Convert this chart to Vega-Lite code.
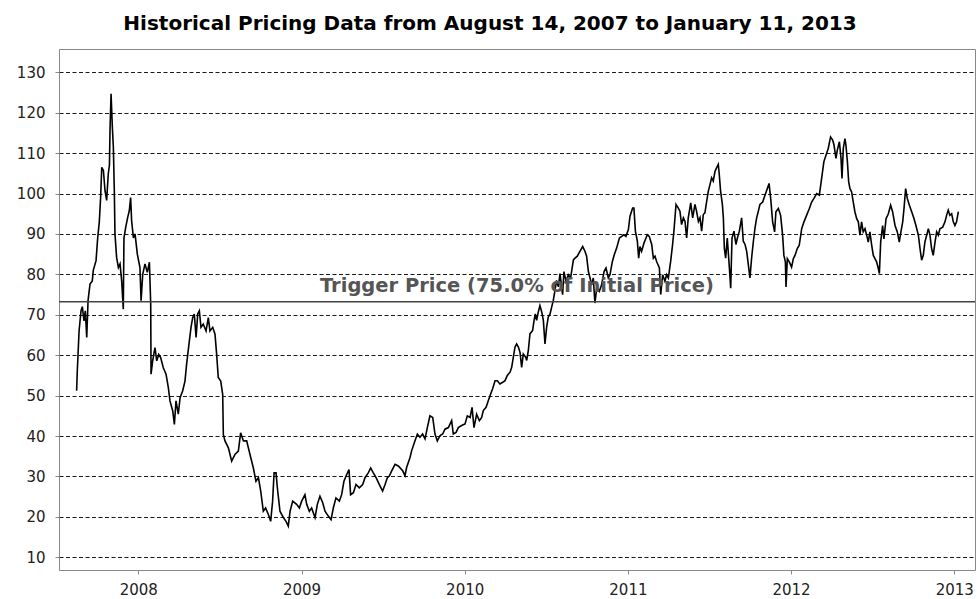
{
  "$schema": "https://vega.github.io/schema/vega-lite/v6.json",
  "width": 916,
  "height": 521,
  "autosize": "none",
  "padding": {"left": 59, "top": 49, "right": 2, "bottom": 29},
  "background": "white",
  "config": {
    "view": {"stroke": "#888888", "strokeWidth": 1},
    "font": "DejaVu Sans"
  },
  "title": {
    "text": "Historical Pricing Data from August 14, 2007 to January 11, 2013",
    "font": "DejaVu Sans",
    "fontSize": 20,
    "fontWeight": "bold",
    "color": "#000000",
    "anchor": "middle",
    "baseline": "alphabetic",
    "offset": -1,
    "dx": -27
  },
  "layer": [
    {
      "data": {"values": [
        {"t": 2007.622, "price": 51.2}, {"t": 2007.626, "price": 56}, {"t": 2007.637, "price": 66}, {"t": 2007.649, "price": 71},
        {"t": 2007.657, "price": 72}, {"t": 2007.667, "price": 68.5}, {"t": 2007.675, "price": 71}, {"t": 2007.684, "price": 64.4},
        {"t": 2007.692, "price": 73.5}, {"t": 2007.704, "price": 77.6}, {"t": 2007.718, "price": 78.4}, {"t": 2007.724, "price": 81},
        {"t": 2007.741, "price": 83.4}, {"t": 2007.751, "price": 89}, {"t": 2007.761, "price": 93}, {"t": 2007.769, "price": 99},
        {"t": 2007.776, "price": 106.5}, {"t": 2007.786, "price": 105.7}, {"t": 2007.796, "price": 100.7}, {"t": 2007.806, "price": 98.3},
        {"t": 2007.816, "price": 104.9}, {"t": 2007.823, "price": 107}, {"t": 2007.827, "price": 116.4}, {"t": 2007.833, "price": 124.7},
        {"t": 2007.841, "price": 116.4}, {"t": 2007.847, "price": 111.5}, {"t": 2007.853, "price": 100.7}, {"t": 2007.857, "price": 90},
        {"t": 2007.867, "price": 84.2}, {"t": 2007.878, "price": 81.7}, {"t": 2007.888, "price": 82.6}, {"t": 2007.898, "price": 78.4},
        {"t": 2007.908, "price": 71.4}, {"t": 2007.912, "price": 89}, {"t": 2007.923, "price": 91.7}, {"t": 2007.935, "price": 94.1},
        {"t": 2007.945, "price": 95.8}, {"t": 2007.953, "price": 99}, {"t": 2007.959, "price": 93.3}, {"t": 2007.970, "price": 89},
        {"t": 2007.980, "price": 90}, {"t": 2007.994, "price": 85}, {"t": 2008.010, "price": 81.7}, {"t": 2008.017, "price": 73.5},
        {"t": 2008.027, "price": 80}, {"t": 2008.041, "price": 82.6}, {"t": 2008.055, "price": 80.5}, {"t": 2008.068, "price": 83},
        {"t": 2008.076, "price": 72.6}, {"t": 2008.078, "price": 55.3}, {"t": 2008.088, "price": 58.6}, {"t": 2008.102, "price": 61.9},
        {"t": 2008.113, "price": 58.6}, {"t": 2008.125, "price": 60.2}, {"t": 2008.137, "price": 59.4}, {"t": 2008.153, "price": 56.9},
        {"t": 2008.170, "price": 55.3}, {"t": 2008.184, "price": 52}, {"t": 2008.194, "price": 48.7}, {"t": 2008.211, "price": 46.2},
        {"t": 2008.221, "price": 42.9}, {"t": 2008.231, "price": 48.7}, {"t": 2008.245, "price": 45.4}, {"t": 2008.256, "price": 49.5},
        {"t": 2008.272, "price": 51.2}, {"t": 2008.286, "price": 53.6}, {"t": 2008.296, "price": 57.8}, {"t": 2008.313, "price": 63.6},
        {"t": 2008.323, "price": 66.9}, {"t": 2008.333, "price": 69.3}, {"t": 2008.343, "price": 70.2}, {"t": 2008.354, "price": 64.4},
        {"t": 2008.364, "price": 70.2}, {"t": 2008.374, "price": 71}, {"t": 2008.384, "price": 66.9}, {"t": 2008.398, "price": 67.7},
        {"t": 2008.415, "price": 66}, {"t": 2008.429, "price": 69.3}, {"t": 2008.439, "price": 66}, {"t": 2008.456, "price": 66.9},
        {"t": 2008.470, "price": 65.2}, {"t": 2008.480, "price": 60.2}, {"t": 2008.490, "price": 54.5}, {"t": 2008.505, "price": 53.6},
        {"t": 2008.517, "price": 50.3}, {"t": 2008.521, "price": 40.4}, {"t": 2008.531, "price": 38.8}, {"t": 2008.552, "price": 37.1},
        {"t": 2008.572, "price": 33.8}, {"t": 2008.593, "price": 35.5}, {"t": 2008.613, "price": 36.3}, {"t": 2008.627, "price": 40.8},
        {"t": 2008.644, "price": 38.8}, {"t": 2008.664, "price": 38.8}, {"t": 2008.684, "price": 35.5}, {"t": 2008.705, "price": 32.1},
        {"t": 2008.721, "price": 28.8}, {"t": 2008.736, "price": 29.7}, {"t": 2008.750, "price": 26.4}, {"t": 2008.766, "price": 21.4},
        {"t": 2008.780, "price": 22.2}, {"t": 2008.797, "price": 20.6}, {"t": 2008.811, "price": 18.9}, {"t": 2008.823, "price": 23.9},
        {"t": 2008.832, "price": 30.9}, {"t": 2008.844, "price": 30.9}, {"t": 2008.852, "price": 27.2}, {"t": 2008.868, "price": 21.4},
        {"t": 2008.889, "price": 19.8}, {"t": 2008.905, "price": 18.9}, {"t": 2008.919, "price": 17.7}, {"t": 2008.930, "price": 21.4},
        {"t": 2008.946, "price": 23.9}, {"t": 2008.970, "price": 23.1}, {"t": 2008.987, "price": 22.2}, {"t": 2009.001, "price": 23.9},
        {"t": 2009.021, "price": 25.5}, {"t": 2009.032, "price": 23.1}, {"t": 2009.048, "price": 21.4}, {"t": 2009.062, "price": 22.2},
        {"t": 2009.083, "price": 19.8}, {"t": 2009.097, "price": 23.1}, {"t": 2009.113, "price": 25.1}, {"t": 2009.130, "price": 23.5},
        {"t": 2009.144, "price": 21.4}, {"t": 2009.164, "price": 20.2}, {"t": 2009.181, "price": 19.3}, {"t": 2009.195, "price": 22.2},
        {"t": 2009.211, "price": 24.7}, {"t": 2009.232, "price": 23.9}, {"t": 2009.246, "price": 25.5}, {"t": 2009.260, "price": 28.8},
        {"t": 2009.277, "price": 30.5}, {"t": 2009.291, "price": 31.7}, {"t": 2009.301, "price": 25.5}, {"t": 2009.318, "price": 26},
        {"t": 2009.334, "price": 28}, {"t": 2009.354, "price": 27.2}, {"t": 2009.375, "price": 28}, {"t": 2009.389, "price": 29.7},
        {"t": 2009.409, "price": 30.9}, {"t": 2009.424, "price": 32.1}, {"t": 2009.440, "price": 30.9}, {"t": 2009.457, "price": 29.7},
        {"t": 2009.477, "price": 28}, {"t": 2009.497, "price": 26.4}, {"t": 2009.512, "price": 28}, {"t": 2009.526, "price": 29.7},
        {"t": 2009.538, "price": 30.1}, {"t": 2009.552, "price": 31.3}, {"t": 2009.573, "price": 33}, {"t": 2009.593, "price": 32.6},
        {"t": 2009.620, "price": 31.4}, {"t": 2009.634, "price": 30.2}, {"t": 2009.644, "price": 32.2}, {"t": 2009.665, "price": 34.7},
        {"t": 2009.675, "price": 36.4}, {"t": 2009.695, "price": 38.8}, {"t": 2009.710, "price": 40.5}, {"t": 2009.726, "price": 39.7},
        {"t": 2009.742, "price": 40.5}, {"t": 2009.757, "price": 39.3}, {"t": 2009.771, "price": 42.1}, {"t": 2009.787, "price": 45},
        {"t": 2009.804, "price": 44.6}, {"t": 2009.818, "price": 40.5}, {"t": 2009.832, "price": 38.8}, {"t": 2009.849, "price": 40.1},
        {"t": 2009.865, "price": 40.5}, {"t": 2009.879, "price": 41.7}, {"t": 2009.900, "price": 42.1}, {"t": 2009.920, "price": 43.8},
        {"t": 2009.930, "price": 40.5}, {"t": 2009.947, "price": 40.9}, {"t": 2009.961, "price": 42.1}, {"t": 2009.981, "price": 42.6},
        {"t": 2010.002, "price": 43}, {"t": 2010.016, "price": 45}, {"t": 2010.033, "price": 44.6}, {"t": 2010.045, "price": 47.1},
        {"t": 2010.057, "price": 42.1}, {"t": 2010.073, "price": 45.4}, {"t": 2010.090, "price": 43.8}, {"t": 2010.104, "price": 44.6},
        {"t": 2010.114, "price": 46.3}, {"t": 2010.131, "price": 47.1}, {"t": 2010.145, "price": 48.8}, {"t": 2010.159, "price": 50.4},
        {"t": 2010.171, "price": 51.7}, {"t": 2010.186, "price": 53.7}, {"t": 2010.200, "price": 53.7}, {"t": 2010.216, "price": 52.9},
        {"t": 2010.233, "price": 53.3}, {"t": 2010.247, "price": 53.7}, {"t": 2010.261, "price": 55}, {"t": 2010.278, "price": 55.8},
        {"t": 2010.288, "price": 57}, {"t": 2010.298, "price": 59.5}, {"t": 2010.308, "price": 62}, {"t": 2010.318, "price": 62.8},
        {"t": 2010.329, "price": 62}, {"t": 2010.339, "price": 60.7}, {"t": 2010.349, "price": 57}, {"t": 2010.359, "price": 60.3},
        {"t": 2010.374, "price": 59.5}, {"t": 2010.380, "price": 58.7}, {"t": 2010.390, "price": 61.2}, {"t": 2010.400, "price": 65.3},
        {"t": 2010.416, "price": 66.1}, {"t": 2010.425, "price": 68.6}, {"t": 2010.433, "price": 70.2}, {"t": 2010.441, "price": 68.6},
        {"t": 2010.451, "price": 70.7}, {"t": 2010.461, "price": 72.3}, {"t": 2010.472, "price": 70.7}, {"t": 2010.482, "price": 68.6},
        {"t": 2010.492, "price": 62.8}, {"t": 2010.502, "price": 66.9}, {"t": 2010.512, "price": 69.4}, {"t": 2010.523, "price": 70.2},
        {"t": 2010.533, "price": 71.9}, {"t": 2010.543, "price": 73.6}, {"t": 2010.553, "price": 76}, {"t": 2010.563, "price": 78.5},
        {"t": 2010.574, "price": 76.9}, {"t": 2010.584, "price": 80.2}, {"t": 2010.600, "price": 75}, {"t": 2010.608, "price": 80.7},
        {"t": 2010.621, "price": 78.3}, {"t": 2010.635, "price": 79.9}, {"t": 2010.649, "price": 79.1}, {"t": 2010.666, "price": 83.6},
        {"t": 2010.676, "price": 84}, {"t": 2010.690, "price": 84.5}, {"t": 2010.706, "price": 85.7}, {"t": 2010.723, "price": 86.9},
        {"t": 2010.737, "price": 85.7}, {"t": 2010.747, "price": 84.5}, {"t": 2010.758, "price": 80.7}, {"t": 2010.768, "price": 79.1},
        {"t": 2010.778, "price": 77.4}, {"t": 2010.788, "price": 79.1}, {"t": 2010.798, "price": 72.9}, {"t": 2010.809, "price": 76.6},
        {"t": 2010.825, "price": 75.8}, {"t": 2010.839, "price": 77.4}, {"t": 2010.854, "price": 80.7}, {"t": 2010.866, "price": 81.6},
        {"t": 2010.880, "price": 79.1}, {"t": 2010.890, "price": 79.9}, {"t": 2010.905, "price": 83.2}, {"t": 2010.917, "price": 84.9},
        {"t": 2010.931, "price": 86.5}, {"t": 2010.948, "price": 89}, {"t": 2010.962, "price": 89.4}, {"t": 2010.976, "price": 89.8},
        {"t": 2010.988, "price": 89.4}, {"t": 2011.003, "price": 91.1}, {"t": 2011.013, "price": 94.4}, {"t": 2011.029, "price": 96.4},
        {"t": 2011.037, "price": 96.4}, {"t": 2011.046, "price": 90.7}, {"t": 2011.058, "price": 88.2}, {"t": 2011.066, "price": 84},
        {"t": 2011.074, "price": 86.9}, {"t": 2011.084, "price": 85.7}, {"t": 2011.099, "price": 87.8}, {"t": 2011.111, "price": 89},
        {"t": 2011.119, "price": 89.8}, {"t": 2011.131, "price": 89.4}, {"t": 2011.146, "price": 87.4}, {"t": 2011.156, "price": 84},
        {"t": 2011.166, "price": 84.5}, {"t": 2011.176, "price": 83.2}, {"t": 2011.193, "price": 81.6}, {"t": 2011.201, "price": 75},
        {"t": 2011.213, "price": 79.9}, {"t": 2011.227, "price": 78.3}, {"t": 2011.237, "price": 79.9}, {"t": 2011.248, "price": 79.1},
        {"t": 2011.262, "price": 83.2}, {"t": 2011.274, "price": 87.4}, {"t": 2011.282, "price": 90.7}, {"t": 2011.295, "price": 97.3},
        {"t": 2011.309, "price": 96.4}, {"t": 2011.319, "price": 95.6}, {"t": 2011.329, "price": 92.3}, {"t": 2011.340, "price": 94},
        {"t": 2011.350, "price": 93.1}, {"t": 2011.360, "price": 89}, {"t": 2011.370, "price": 94}, {"t": 2011.385, "price": 97.7},
        {"t": 2011.397, "price": 94}, {"t": 2011.411, "price": 97.3}, {"t": 2011.421, "price": 95.6}, {"t": 2011.432, "price": 93.1},
        {"t": 2011.442, "price": 94}, {"t": 2011.452, "price": 90.7}, {"t": 2011.462, "price": 94.8}, {"t": 2011.472, "price": 95.2},
        {"t": 2011.483, "price": 98.1}, {"t": 2011.493, "price": 100.6}, {"t": 2011.503, "price": 102.2}, {"t": 2011.513, "price": 103.9},
        {"t": 2011.523, "price": 103.1}, {"t": 2011.534, "price": 105.5}, {"t": 2011.544, "price": 106.4}, {"t": 2011.554, "price": 107.2},
        {"t": 2011.560, "price": 104.7}, {"t": 2011.568, "price": 100.6}, {"t": 2011.579, "price": 97.3}, {"t": 2011.585, "price": 94},
        {"t": 2011.591, "price": 86.5}, {"t": 2011.599, "price": 84}, {"t": 2011.609, "price": 89}, {"t": 2011.622, "price": 81.6},
        {"t": 2011.630, "price": 76.6}, {"t": 2011.638, "price": 89}, {"t": 2011.650, "price": 90.7}, {"t": 2011.662, "price": 87.4},
        {"t": 2011.671, "price": 89}, {"t": 2011.683, "price": 90.7}, {"t": 2011.697, "price": 94}, {"t": 2011.707, "price": 88.2},
        {"t": 2011.718, "price": 87.4}, {"t": 2011.728, "price": 85.7}, {"t": 2011.738, "price": 82.4}, {"t": 2011.748, "price": 79.1},
        {"t": 2011.758, "price": 84}, {"t": 2011.769, "price": 88.2}, {"t": 2011.779, "price": 91.5}, {"t": 2011.789, "price": 94},
        {"t": 2011.799, "price": 95.6}, {"t": 2011.809, "price": 97.3}, {"t": 2011.826, "price": 97.9}, {"t": 2011.840, "price": 99.6},
        {"t": 2011.854, "price": 101.2}, {"t": 2011.865, "price": 102.5}, {"t": 2011.875, "price": 98.8}, {"t": 2011.887, "price": 93},
        {"t": 2011.899, "price": 90.5}, {"t": 2011.907, "price": 95.5}, {"t": 2011.922, "price": 96.3}, {"t": 2011.936, "price": 94.6},
        {"t": 2011.948, "price": 89.7}, {"t": 2011.956, "price": 84.7}, {"t": 2011.965, "price": 83.1}, {"t": 2011.969, "price": 76.9},
        {"t": 2011.977, "price": 83.9}, {"t": 2011.989, "price": 83.1}, {"t": 2012.003, "price": 81.8}, {"t": 2012.014, "price": 83.9},
        {"t": 2012.024, "price": 84.7}, {"t": 2012.038, "price": 86.4}, {"t": 2012.050, "price": 87.2}, {"t": 2012.065, "price": 91.3},
        {"t": 2012.079, "price": 93}, {"t": 2012.095, "price": 94.6}, {"t": 2012.112, "price": 96.3}, {"t": 2012.126, "price": 97.9},
        {"t": 2012.140, "price": 98.8}, {"t": 2012.157, "price": 100}, {"t": 2012.173, "price": 99.6}, {"t": 2012.187, "price": 103.7},
        {"t": 2012.201, "price": 107.9}, {"t": 2012.214, "price": 109.5}, {"t": 2012.228, "price": 111.2}, {"t": 2012.242, "price": 114},
        {"t": 2012.255, "price": 113.2}, {"t": 2012.263, "price": 112}, {"t": 2012.275, "price": 108.7}, {"t": 2012.283, "price": 110.7},
        {"t": 2012.296, "price": 112.8}, {"t": 2012.306, "price": 108.7}, {"t": 2012.312, "price": 103.7}, {"t": 2012.320, "price": 111.2},
        {"t": 2012.330, "price": 113.6}, {"t": 2012.336, "price": 112}, {"t": 2012.345, "price": 107.9}, {"t": 2012.353, "price": 102.9},
        {"t": 2012.361, "price": 101.2}, {"t": 2012.371, "price": 100.4}, {"t": 2012.381, "price": 97.9}, {"t": 2012.391, "price": 95.5},
        {"t": 2012.402, "price": 93.8}, {"t": 2012.412, "price": 93}, {"t": 2012.422, "price": 89.7}, {"t": 2012.432, "price": 93},
        {"t": 2012.442, "price": 90.5}, {"t": 2012.453, "price": 91.3}, {"t": 2012.463, "price": 89.7}, {"t": 2012.473, "price": 88},
        {"t": 2012.483, "price": 90.5}, {"t": 2012.494, "price": 87.2}, {"t": 2012.504, "price": 84.7}, {"t": 2012.514, "price": 83.9},
        {"t": 2012.524, "price": 83.1}, {"t": 2012.535, "price": 81.4}, {"t": 2012.541, "price": 80.2}, {"t": 2012.549, "price": 88},
        {"t": 2012.561, "price": 92.1}, {"t": 2012.569, "price": 88.8}, {"t": 2012.582, "price": 93.8}, {"t": 2012.596, "price": 95},
        {"t": 2012.610, "price": 97.1}, {"t": 2012.622, "price": 95.5}, {"t": 2012.637, "price": 92.1}, {"t": 2012.651, "price": 90.5},
        {"t": 2012.663, "price": 88}, {"t": 2012.673, "price": 90.5}, {"t": 2012.684, "price": 93}, {"t": 2012.692, "price": 96.3},
        {"t": 2012.702, "price": 101.2}, {"t": 2012.712, "price": 98.8}, {"t": 2012.725, "price": 97.1}, {"t": 2012.739, "price": 95.5},
        {"t": 2012.753, "price": 93.8}, {"t": 2012.765, "price": 92.1}, {"t": 2012.780, "price": 89.7}, {"t": 2012.790, "price": 86.4},
        {"t": 2012.800, "price": 83.5}, {"t": 2012.810, "price": 84.7}, {"t": 2012.820, "price": 88}, {"t": 2012.831, "price": 89.7},
        {"t": 2012.841, "price": 91.3}, {"t": 2012.851, "price": 89.7}, {"t": 2012.861, "price": 86.4}, {"t": 2012.871, "price": 84.7},
        {"t": 2012.882, "price": 88}, {"t": 2012.892, "price": 90.5}, {"t": 2012.902, "price": 89.7}, {"t": 2012.912, "price": 91.3},
        {"t": 2012.929, "price": 91.7}, {"t": 2012.943, "price": 93}, {"t": 2012.953, "price": 94.6}, {"t": 2012.963, "price": 95.9},
        {"t": 2012.973, "price": 94.6}, {"t": 2012.984, "price": 95}, {"t": 2012.994, "price": 93}, {"t": 2013.004, "price": 92.1},
        {"t": 2013.014, "price": 93}, {"t": 2013.025, "price": 95.5}
      ]},
      "mark": {"type": "line", "color": "#000000", "strokeWidth": 1.6, "interpolate": "linear"},
      "encoding": {
        "x": {
          "field": "t", "type": "quantitative",
          "scale": {"domain": [2007.514, 2013.127], "nice": false, "zero": false},
          "axis": {
            "title": null, "values": [2008, 2009, 2010, 2011, 2012, 2013], "format": "d",
            "grid": false, "domain": false, "tickSize": 4, "tickColor": "#888888",
            "labelFont": "DejaVu Sans", "labelFontSize": 15, "labelColor": "#222222", "labelPadding": 8
          }
        },
        "y": {
          "field": "price", "type": "quantitative",
          "scale": {"domain": [6.86, 135.76], "nice": false, "zero": false},
          "axis": {
            "title": null, "values": [10, 20, 30, 40, 50, 60, 70, 80, 90, 100, 110, 120, 130],
            "grid": true, "gridColor": "#000000", "gridDash": [4, 2.5], "gridWidth": 1, "gridOpacity": 0.9,
            "domain": false, "tickSize": 4, "tickColor": "#888888",
            "labelFont": "DejaVu Sans", "labelFontSize": 15, "labelColor": "#222222", "labelPadding": 10
          }
        }
      }
    },
    {
      "data": {"values": [{"trigger": 73.2, "label": "Trigger Price (75.0% of Initial Price)", "mid": 2010.32}]},
      "mark": {"type": "rule", "color": "#444444", "strokeWidth": 1.5},
      "encoding": {
        "y": {"field": "trigger", "type": "quantitative"}
      }
    },
    {
      "data": {"values": [{"trigger": 73.2, "label": "Trigger Price (75.0% of Initial Price)", "mid": 2010.32}]},
      "mark": {"type": "text", "font": "DejaVu Sans", "fontSize": 19.5, "fontWeight": "bold", "color": "#555555", "align": "center", "baseline": "alphabetic", "dy": -10},
      "encoding": {
        "x": {"field": "mid", "type": "quantitative"},
        "y": {"field": "trigger", "type": "quantitative"},
        "text": {"field": "label"}
      }
    }
  ]
}
